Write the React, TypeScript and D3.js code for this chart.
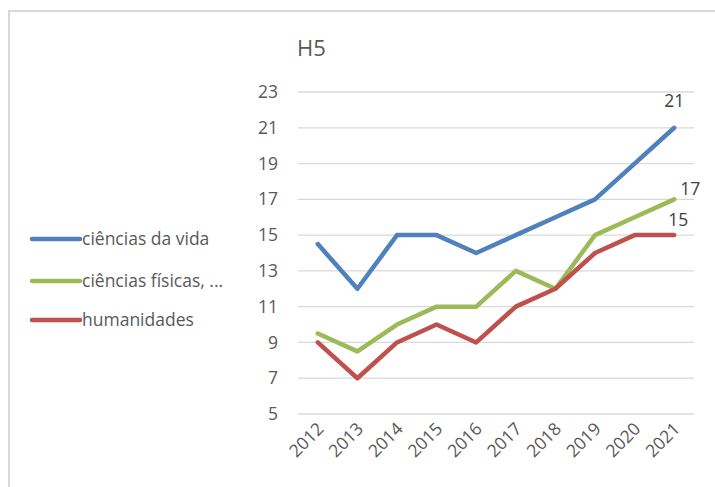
import React from 'react';
import * as d3 from 'd3';

const years = ['2012', '2013', '2014', '2015', '2016', '2017', '2018', '2019', '2020', '2021'];
const vida = [14.5, 12, 15, 15, 14, 15, 16, 17, 19, 21];
const fisicas = [9.5, 8.5, 10, 11, 11, 13, 12, 15, 16, 17];
const humanidades = [9, 7, 9, 10, 9, 11, 12, 14, 15, 15];
const yTicks = [5, 7, 9, 11, 13, 15, 17, 19, 21, 23];

const series = [
    { name: 'ciências da vida', values: vida, color: '#4F81BD' },
    { name: 'ciências físicas, ...', values: fisicas, color: '#9BBB59' },
    { name: 'humanidades', values: humanidades, color: '#C0504D' },
];

const W = 715;
const H = 487;
const FONT = '"Open Sans", "Noto Sans", sans-serif';
const GREY = '#595959';
const FS = 17.5;

export default function App() {
    const x = d3.scaleBand().domain(years).range([298, 694]);
    const y = d3.scaleLinear().domain([5, 23]).range([414, 92]);
    const line = d3.line<number>()
        .x((d, i) => x(years[i])! + x.bandwidth() / 2)
        .y(d => y(d));

    const last = years.length - 1;
    const lx = x(years[last])! + x.bandwidth() / 2;

    return (
        <svg width={W} height={H} style={{ position: 'absolute', left: 0, top: 0 }} fontFamily={FONT}>
            <rect x={0} y={0} width={W} height={H} fill="#fff" />
            <path d={`M9,${H} V11 H${W}`} fill="none" stroke="#d9d9d9" strokeWidth={2} />

            <text x={297} y={56} fontSize={22} fill={GREY}>H5</text>

            {yTicks.map(t => (
                <g key={t}>
                    <line x1={298} x2={694} y1={y(t)} y2={y(t)} stroke="#d9d9d9" strokeWidth={1.3} />
                    <text x={278} y={y(t)} dy="0.35em" textAnchor="end" fontSize={FS} fill={GREY}>{t}</text>
                </g>
            ))}

            {years.map(yr => (
                <text key={yr} fontSize={FS} fill={GREY} textAnchor="end"
                    transform={`translate(${x(yr)! + x.bandwidth() / 2 + 7},${430}) rotate(-45)`}>
                    {yr}
                </text>
            ))}

            {series.map(s => (
                <path key={s.name} d={line(s.values)!} fill="none" stroke={s.color}
                    strokeWidth={4.5} strokeLinejoin="round" strokeLinecap="round" />
            ))}

            {/* last-point labels */}
            <text x={lx} y={y(vida[last]) - 21} textAnchor="middle" fontSize={FS} fill="#404040">{vida[last]}</text>
            <text x={lx + 6} y={y(fisicas[last]) - 4} fontSize={FS} fill="#404040">{fisicas[last]}</text>
            <text x={lx - 6} y={y(humanidades[last]) - 9} fontSize={FS} fill="#404040">{humanidades[last]}</text>

            {series.map((s, i) => {
                const ly = [239, 281, 320][i];
                return (
                    <g key={s.name}>
                        <line x1={32} x2={80} y1={ly} y2={ly} stroke={s.color} strokeWidth={4.5} strokeLinecap="round" />
                        <text x={82} y={ly} dy="0.35em" fontSize={FS} fill={GREY}>{s.name}</text>
                    </g>
                );
            })}
        </svg>
    );
}
